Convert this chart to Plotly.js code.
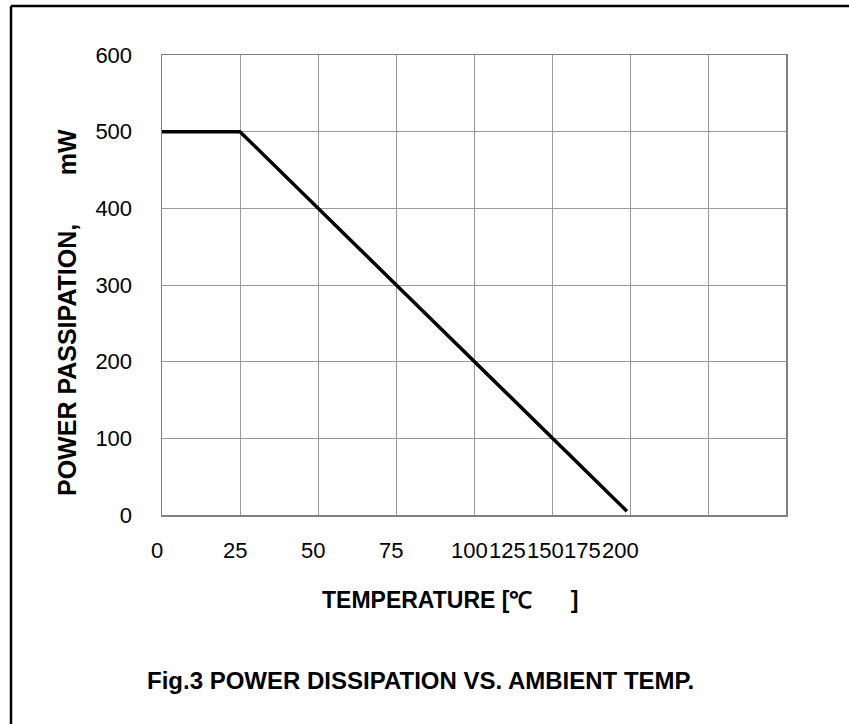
<!DOCTYPE html>
<html>
<head>
<meta charset="utf-8">
<script src="https://cdn.plot.ly/plotly-3.0.1.min.js"></script>
<style>
html,body{margin:0;padding:0;background:#fff;}
#chart{width:849px;height:724px;}
</style>
</head>
<body>
<div id="chart"></div>
<script>
// ---- data ----
const temps = [0, 25, 149];
const power = [500, 500, 5];
const xTickValues = [0, 25, 50, 75, 100, 125, 150, 175, 200];
const xTickLabels = ['0', '25', '50', '75', '100', '125', '150', '175', '200'];
const yTickValues = [0, 100, 200, 300, 400, 500, 600];
const yTickLabels = ['0', '100', '200', '300', '400', '500', '600'];
const xTitle = 'TEMPERATURE [\u2103' + '\u00a0'.repeat(6) + ']';
const yTitle = 'POWER PASSIPATION,' + '\u00a0'.repeat(7) + 'mW';
const caption = 'Fig.3 POWER DISSIPATION VS. AMBIENT TEMP.';

// ---- layout helpers ----
const W = 849, H = 724;
const L = 162, R = 786, T = 55, B = 515;
const px2x = p => (p - L) / (R - L);
const px2y = p => (B - p) / (B - T);
const XMIN = 0, XMAX = 200;

// tick-label placement (first four just left of their grid line, the rest packed together)
const labelPos = xTickValues.map((v, i) => i < 4 ? v - 1.45 : 98.7 + (i - 4) * 12.05);

const FONT = 'Liberation Sans, Arial, sans-serif';

const trace = {
  x: temps, y: power, type: 'scatter', mode: 'lines',
  line: {color: '#000', width: 3.5},
  hoverinfo: 'skip', showlegend: false
};

const tickAnnotations = xTickLabels.map((t, i) => ({
  text: t, xref: 'paper', yref: 'paper',
  x: (labelPos[i] - XMIN) / (XMAX - XMIN), y: px2y(550.5),
  xanchor: 'center', yanchor: 'middle', showarrow: false,
  font: {family: FONT, size: 22, color: '#000'}
}));

const layout = {
  width: W, height: H,
  margin: {l: L, r: W - R, t: T, b: H - B, pad: 0},
  paper_bgcolor: '#fff', plot_bgcolor: '#fff',
  font: {family: FONT, size: 22, color: '#000'},
  showlegend: false,
  xaxis: {
    range: [XMIN, XMAX], tickvals: xTickValues, showticklabels: false,
    showgrid: true, gridcolor: '#9a9a9a', gridwidth: 1,
    showline: true, linecolor: '#808080', linewidth: 1.5, mirror: true,
    zeroline: false, ticks: '', fixedrange: true
  },
  yaxis: {
    range: [0, 600], tickvals: yTickValues, ticktext: yTickLabels,
    showgrid: true, gridcolor: '#9a9a9a', gridwidth: 1,
    showline: true, linecolor: '#808080', linewidth: 1.5, mirror: true,
    zeroline: false, ticks: '', ticklabelstandoff: 24,
    tickfont: {family: FONT, size: 22, color: '#000'}, fixedrange: true
  },
  annotations: tickAnnotations.concat([
    {text: yTitle, xref: 'paper', yref: 'paper', x: px2x(67), y: px2y(313),
     xanchor: 'center', yanchor: 'middle', textangle: -90, showarrow: false,
     font: {family: FONT, size: 25, color: '#000', weight: 'bold'}},
    {text: xTitle, xref: 'paper', yref: 'paper', x: px2x(450), y: px2y(600),
     xanchor: 'center', yanchor: 'middle', showarrow: false,
     font: {family: FONT, size: 23, color: '#000', weight: 'bold'}},
    {text: caption, xref: 'paper', yref: 'paper', x: px2x(420), y: px2y(680),
     xanchor: 'center', yanchor: 'middle', showarrow: false,
     font: {family: FONT, size: 24, color: '#000', weight: 'bold'}}
  ]),
  shapes: [
    {type: 'line', xref: 'paper', yref: 'paper', x0: px2x(11), x1: px2x(11), y0: px2y(6), y1: px2y(760),
     line: {color: '#000', width: 2.5}},
    {type: 'line', xref: 'paper', yref: 'paper', x0: px2x(11), x1: px2x(900), y0: px2y(6), y1: px2y(6),
     line: {color: '#000', width: 2.5}}
  ]
};

Plotly.newPlot('chart', [trace], layout, {staticPlot: true, displayModeBar: false});
</script>
</body>
</html>
